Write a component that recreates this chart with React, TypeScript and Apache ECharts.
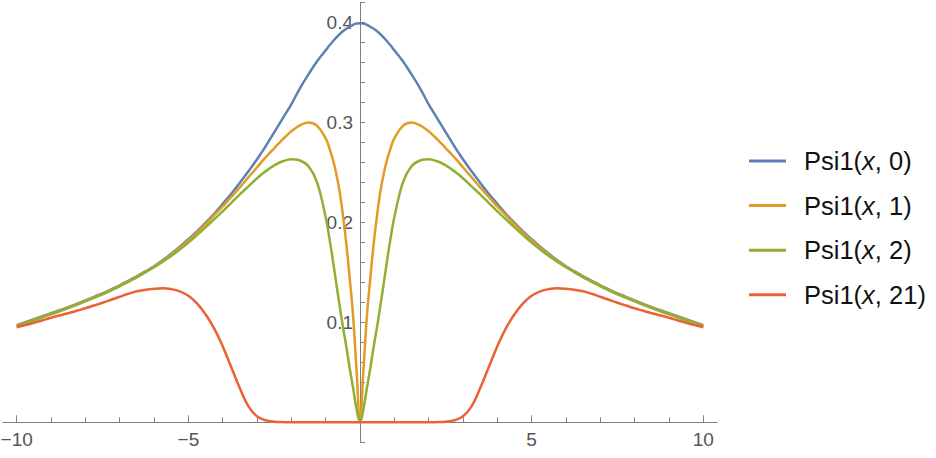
import React, { useEffect, useRef } from "react";
import * as echarts from "echarts";

// Sample positions for x >= 0 (curves are symmetric about x = 0)
const HALF_X = [0, 0.1, 0.2, 0.3, 0.4, 0.5, 0.6, 0.7, 0.8, 0.9, 1.0, 1.25, 1.5, 1.75, 2.0, 2.25, 2.5, 2.75, 3.0, 3.25, 3.5, 3.75, 4.0, 4.25, 4.5, 4.75, 5.0, 5.25, 5.5, 5.75, 6.0, 6.25, 6.5, 6.75, 7.0, 7.25, 7.5, 7.75, 8.0, 8.25, 8.5, 8.75, 9.0, 9.25, 9.5, 9.75, 10.0];

const PSI_0 = [0.399, 0.3988, 0.3975, 0.3955, 0.3935, 0.391, 0.388, 0.3845, 0.3805, 0.3765, 0.372, 0.361, 0.348, 0.334, 0.318, 0.304, 0.29, 0.276, 0.263, 0.251, 0.2395, 0.2285, 0.2185, 0.2085, 0.1995, 0.191, 0.183, 0.1755, 0.1685, 0.162, 0.156, 0.151, 0.146, 0.1415, 0.137, 0.133, 0.129, 0.1255, 0.122, 0.1185, 0.1152, 0.112, 0.109, 0.106, 0.103, 0.1, 0.097];
const PSI_1 = [0, 0.052, 0.106, 0.144, 0.179, 0.208, 0.232, 0.25, 0.264, 0.275, 0.284, 0.2965, 0.2997, 0.297, 0.291, 0.283, 0.274, 0.265, 0.255, 0.245, 0.235, 0.2255, 0.216, 0.207, 0.1982, 0.1898, 0.1818, 0.1745, 0.1677, 0.1613, 0.1555, 0.1505, 0.1455, 0.141, 0.1365, 0.1325, 0.1285, 0.125, 0.1215, 0.118, 0.1147, 0.1115, 0.1085, 0.1055, 0.1025, 0.0995, 0.0965];
const PSI_2 = [0, 0.013, 0.034, 0.054, 0.076, 0.096, 0.118, 0.141, 0.164, 0.186, 0.205, 0.24, 0.256, 0.2618, 0.263, 0.261, 0.257, 0.251, 0.244, 0.236, 0.228, 0.2195, 0.211, 0.203, 0.195, 0.1872, 0.1797, 0.1728, 0.1663, 0.1605, 0.155, 0.15, 0.145, 0.1405, 0.136, 0.132, 0.128, 0.1245, 0.121, 0.1175, 0.1142, 0.111, 0.108, 0.105, 0.102, 0.099, 0.096];
const PSI_21 = [0, 0, 0, 0, 0, 0, 0, 0, 0, 0, 0, 0, 0, 0, 0, 0.0002, 0.0006, 0.002, 0.006, 0.016, 0.034, 0.055, 0.076, 0.094, 0.108, 0.119, 0.1265, 0.131, 0.1332, 0.134, 0.1335, 0.1325, 0.131, 0.1285, 0.1255, 0.1225, 0.1195, 0.1168, 0.114, 0.1115, 0.109, 0.1068, 0.1045, 0.102, 0.0995, 0.0972, 0.095];

const SERIES_NAMES = ["Psi1(x, 0)", "Psi1(x, 1)", "Psi1(x, 2)", "Psi1(x, 21)"];
const SERIES_VALUES = [PSI_0, PSI_1, PSI_2, PSI_21];
const COLORS = ["#5E81B5", "#E19C24", "#8FB032", "#EB6235"];

const X_MAJOR_TICKS = [-10, -5, 5, 10];
const X_MINOR_TICKS = [-9, -8, -7, -6, -4, -3, -2, -1, 1, 2, 3, 4, 6, 7, 8, 9];
const Y_TICKS = [-0.02, 0, 0.02, 0.04, 0.06, 0.08, 0.1, 0.12, 0.14, 0.16, 0.18, 0.2, 0.22, 0.24, 0.26, 0.28, 0.3, 0.32, 0.34, 0.36, 0.38, 0.4, 0.42];
const Y_LABELS = [0.1, 0.2, 0.3, 0.4];

const FONT = "'Liberation Sans', Arial, Helvetica, sans-serif";
const AXIS_COLOR = "#808080";
const LABEL_COLOR = "#555555";

// layout (pixels)
const GRID_LEFT = 3;
const GRID_RIGHT = 219;
const GRID_TOP = 2.3;
const GRID_BOTTOM = 15.7;
const Y_AXIS_SHIFT = -357; // move y axis from grid left to x = 0
const X_AXIS_SHIFT = -20; // move x axis from grid bottom to y = 0

function mirror(xs: number[], ys: number[]): number[][] {
  const out: number[][] = [];
  for (let i = xs.length - 1; i >= 1; i--) out.push([-xs[i], ys[i]]);
  for (let i = 0; i < xs.length; i++) out.push([xs[i], ys[i]]);
  return out;
}

export default function App() {
  const ref = useRef<HTMLDivElement>(null);
  useEffect(() => {
    if (!ref.current) return;
    const chart = echarts.init(ref.current, undefined, { renderer: "svg" });
    const xBase = {
      type: "value",
      min: -10.4,
      max: 10.4,
      position: "bottom",
      offset: X_AXIS_SHIFT,
      splitLine: { show: false },
      axisLine: { show: true, onZero: false, lineStyle: { color: AXIS_COLOR, width: 1 } },
    };
    chart.setOption({
      animation: false,
      backgroundColor: "#ffffff",
      grid: {
        left: GRID_LEFT,
        right: GRID_RIGHT,
        top: GRID_TOP,
        bottom: GRID_BOTTOM,
        containLabel: false,
        outerBoundsMode: "none",
      },
      xAxis: [
        {
          ...xBase,
          axisTick: { show: true, inside: true, length: 7, customValues: X_MAJOR_TICKS, lineStyle: { color: AXIS_COLOR } },
          axisLabel: {
            show: true,
            customValues: X_MAJOR_TICKS,
            color: LABEL_COLOR,
            fontFamily: FONT,
            fontSize: 19,
            margin: 8,
            hideOverlap: false,
            formatter: (v: number) => (v < 0 ? "\u2212" + Math.abs(v) : String(v)),
          },
        },
        {
          ...xBase,
          axisTick: { show: true, inside: true, length: 5, customValues: X_MINOR_TICKS, lineStyle: { color: AXIS_COLOR } },
          axisLabel: { show: false },
        },
      ],
      yAxis: {
        type: "value",
        min: -0.02,
        max: 0.42,
        position: "left",
        offset: Y_AXIS_SHIFT,
        splitLine: { show: false },
        axisLine: { show: true, onZero: false, lineStyle: { color: AXIS_COLOR, width: 1 } },
        axisTick: { show: true, inside: true, length: 5, customValues: Y_TICKS, lineStyle: { color: AXIS_COLOR } },
        axisLabel: {
          show: true,
          customValues: Y_LABELS,
          color: LABEL_COLOR,
          fontFamily: FONT,
          fontSize: 19,
          margin: 7,
          hideOverlap: false,
          formatter: (v: number) => v.toFixed(1),
        },
      },
      legend: {
        orient: "vertical",
        left: 749,
        top: 148,
        padding: 0,
        itemWidth: 37,
        itemHeight: 3,
        itemGap: 18.6,
        icon: "rect",
        data: SERIES_NAMES,
        formatter: (name: string) => {
          const parts = name.split("x");
          return `{g|\u00a0}{a|${parts[0]}}{i|x}{a|${parts[1]}}`;
        },
        textStyle: {
          color: "#111111",
          fontFamily: FONT,
          fontSize: 25.5,
          lineHeight: 26,
          rich: {
            g: { width: 13, fontSize: 25.5, fontFamily: FONT, lineHeight: 26 },
            a: { color: "#111111", fontSize: 25.5, fontFamily: FONT, lineHeight: 26 },
            i: { color: "#111111", fontSize: 25.5, fontFamily: FONT, fontStyle: "italic", lineHeight: 26 },
          },
        },
      },
      series: SERIES_NAMES.map((name, k) => ({
        name,
        type: "line",
        xAxisIndex: 0,
        yAxisIndex: 0,
        data: mirror(HALF_X, SERIES_VALUES[k]),
        showSymbol: false,
        symbol: "none",
        smooth: 0.4,
        color: COLORS[k],
        lineStyle: { color: COLORS[k], width: 2.5 },
      })),
    });
    return () => chart.dispose();
  }, []);
  return (
    <div
      ref={ref}
      style={{ position: "fixed", left: 0, top: 0, width: 936, height: 458, background: "#fff" }}
    />
  );
}
